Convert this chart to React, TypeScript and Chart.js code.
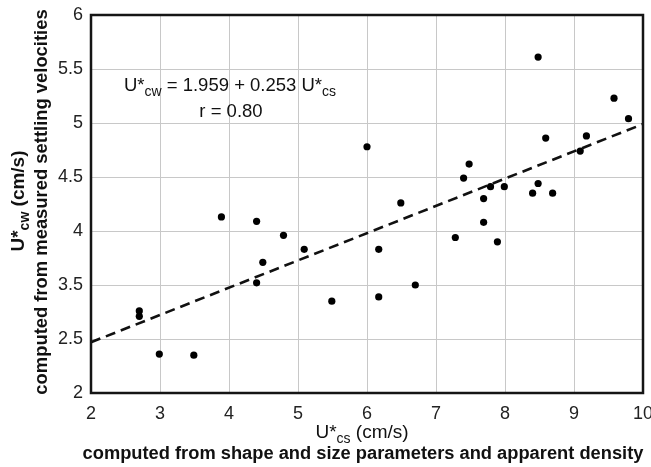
import React, { useEffect, useRef } from "react";
import { Chart, registerables } from "chart.js";

Chart.register(...registerables);

// Measured points: U*cs (x) and U*cw (y, true axis units)
const pointX = [2.7, 2.7, 2.99, 3.49, 3.89, 4.4, 4.79, 4.49, 4.4, 5.09, 5.49, 6.17, 6.17, 6.7, 6.0, 6.49, 7.28, 7.4, 7.48, 7.69, 7.69, 7.79, 7.89, 7.99, 8.4, 8.48, 8.48, 8.59, 8.69, 9.09, 9.18, 9.58, 9.79];
const pointY = [2.76, 2.71, 2.36, 2.35, 3.63, 3.59, 3.46, 3.21, 3.02, 3.33, 2.85, 3.33, 2.89, 3.0, 4.28, 3.76, 3.44, 3.99, 4.12, 3.8, 3.58, 3.91, 3.4, 3.91, 3.85, 3.94, 5.11, 4.36, 3.85, 4.24, 4.38, 4.73, 4.54];

// Regression line end points
const fitX = [2, 10];
const fitY = [2.47, 4.49];

// Axis ticks (labels as printed in the original figure)
const xTickValues = [2, 3, 4, 5, 6, 7, 8, 9, 10];
const yTickValues = [2, 2.5, 3, 3.5, 4, 4.5, 5, 5.5];
const yTickLabels = ["2", "2.5", "3.5", "4", "4.5", "5", "5.5", "6"];

const FONT = '"Liberation Sans", Arial, sans-serif';

type Seg = { t: string; sub?: boolean };

function richWidth(ctx: CanvasRenderingContext2D, segs: Seg[], size: number, subSize: number, weight: string) {
  let w = 0;
  for (const s of segs) {
    ctx.font = `${weight} ${s.sub ? subSize : size}px ${FONT}`;
    w += ctx.measureText(s.t).width;
  }
  return w;
}

function drawRich(ctx: CanvasRenderingContext2D, segs: Seg[], cx: number, baseline: number, size: number, subSize: number, weight: string, subShift: number) {
  const w = richWidth(ctx, segs, size, subSize, weight);
  let x = cx - w / 2;
  ctx.textAlign = "left";
  ctx.textBaseline = "alphabetic";
  for (const s of segs) {
    ctx.font = `${weight} ${s.sub ? subSize : size}px ${FONT}`;
    ctx.fillText(s.t, x, baseline + (s.sub ? subShift : 0));
    x += ctx.measureText(s.t).width;
  }
}

const overlayPlugin = {
  id: "overlay",
  afterDraw(chart: any) {
    const ctx: CanvasRenderingContext2D = chart.ctx;
    const a = chart.chartArea;
    ctx.save();
    // frame
    ctx.strokeStyle = "#151515";
    ctx.lineWidth = 2.5;
    ctx.strokeRect(a.left, a.top, a.right - a.left, a.bottom - a.top);
    ctx.fillStyle = "#111";
    const cx = (a.left + a.right) / 2;
    // x titles
    drawRich(ctx, [{ t: "U*" }, { t: "cs", sub: true }, { t: " (cm/s)" }], cx - 5, 438, 19, 14, "normal", 5);
    ctx.font = `bold 18.3px ${FONT}`;
    ctx.textAlign = "center";
    ctx.textBaseline = "alphabetic";
    ctx.fillText("computed from shape and size parameters and apparent density", cx - 4, 459);
    // y titles
    const cy = (a.top + a.bottom) / 2;
    ctx.save();
    ctx.translate(24, cy - 3);
    ctx.rotate(-Math.PI / 2);
    drawRich(ctx, [{ t: "U*" }, { t: "cw", sub: true }, { t: " (cm/s)" }], 0, 0, 19, 14, "bold", 5);
    ctx.restore();
    ctx.save();
    ctx.translate(47, cy - 2);
    ctx.rotate(-Math.PI / 2);
    ctx.font = `bold 18.4px ${FONT}`;
    ctx.textAlign = "center";
    ctx.textBaseline = "alphabetic";
    ctx.fillText("computed from measured settling velocities", 0, 0);
    ctx.restore();
    // annotation
    drawRich(ctx, [{ t: "U*" }, { t: "cw", sub: true }, { t: " = 1.959 + 0.253 U*" }, { t: "cs", sub: true }], 230, 91, 18.5, 14, "normal", 5);
    ctx.font = `normal 18.5px ${FONT}`;
    ctx.textAlign = "center";
    ctx.fillText("r = 0.80", 231, 117);
    ctx.restore();
  },
};

export default function App() {
  const ref = useRef<HTMLCanvasElement>(null);
  useEffect(() => {
    if (!ref.current) return;
    const chart = new Chart(ref.current, {
      type: "scatter",
      data: {
        datasets: [
          {
            label: "fit",
            type: "line",
            data: fitX.map((x, i) => ({ x, y: fitY[i] })),
            borderColor: "#111",
            borderWidth: 2.6,
            borderDash: [10, 6],
            pointRadius: 0,
            fill: false,
          } as any,
          {
            label: "points",
            data: pointX.map((x, i) => ({ x, y: pointY[i] })),
            backgroundColor: "#000",
            borderColor: "#000",
            pointRadius: 3.6,
            pointBorderWidth: 0,
          },
        ],
      },
      options: {
        animation: false,
        responsive: false,
        layout: { padding: { left: 0, top: 15, right: 8, bottom: 0 } },
        plugins: { legend: { display: false }, tooltip: { enabled: false } },
        scales: {
          x: {
            type: "linear",
            min: 2,
            max: 10,
            afterFit: (s: any) => { s.height = 74; s.paddingLeft = 0; s.paddingRight = 0; },
            afterBuildTicks: (s: any) => { s.ticks = xTickValues.map((v) => ({ value: v })); },
            grid: { color: "#c8c8c8", lineWidth: 1, drawTicks: false },
            border: { display: false },
            ticks: { color: "#222", padding: 10, font: { family: FONT, size: 18 }, maxRotation: 0, autoSkip: false },
          },
          y: {
            type: "linear",
            min: 2,
            max: 5.5,
            afterFit: (s: any) => { s.width = 91; s.paddingTop = 0; s.paddingBottom = 0; },
            afterBuildTicks: (s: any) => { s.ticks = yTickValues.map((v) => ({ value: v })); },
            grid: { color: "#c8c8c8", lineWidth: 1, drawTicks: false },
            border: { display: false },
            ticks: {
              color: "#222",
              padding: 8,
              font: { family: FONT, size: 18 },
              autoSkip: false,
              callback: (v: any) => {
                const i = yTickValues.indexOf(Number(v));
                return i >= 0 ? yTickLabels[i] : "";
              },
            },
          },
        },
      },
      plugins: [overlayPlugin],
    });
    return () => chart.destroy();
  }, []);
  return (
    <div style={{ position: "fixed", left: 0, top: 0, width: 651, height: 467, background: "#fff" }}>
      <canvas ref={ref} width={651} height={467} style={{ width: 651, height: 467 }} />
    </div>
  );
}
